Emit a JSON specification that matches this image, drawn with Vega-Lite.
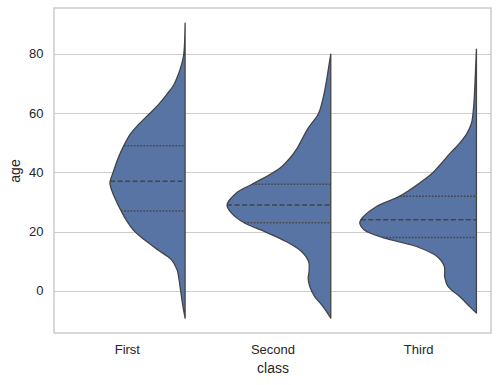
{
  "$schema": "https://vega.github.io/schema/vega-lite/v6.json",
  "width": 437,
  "height": 325,
  "autosize": "none",
  "padding": {"left": 54, "top": 8, "right": 8, "bottom": 52},
  "config": {
    "font": "Liberation Sans",
    "view": {"stroke": "#cccccc", "strokeWidth": 1.5},
    "axis": {"labelColor": "#262626", "titleColor": "#262626", "labelFontSize": 13, "titleFontSize": 14, "titleFontWeight": "normal", "ticks": false, "domain": false}
  },
  "datasets": {
    "outline": [
      {"class": "First", "age": -9.2, "w": 0},
      {"class": "First", "age": -4.2, "w": 0.018},
      {"class": "First", "age": -0.2, "w": 0.030},
      {"class": "First", "age": 3.7, "w": 0.041},
      {"class": "First", "age": 7.1, "w": 0.055},
      {"class": "First", "age": 10.5, "w": 0.093},
      {"class": "First", "age": 13.8, "w": 0.185},
      {"class": "First", "age": 17.2, "w": 0.277},
      {"class": "First", "age": 20.0, "w": 0.345},
      {"class": "First", "age": 24.0, "w": 0.405},
      {"class": "First", "age": 27.1, "w": 0.440},
      {"class": "First", "age": 30.7, "w": 0.476},
      {"class": "First", "age": 34.1, "w": 0.505},
      {"class": "First", "age": 36.5, "w": 0.516},
      {"class": "First", "age": 40.3, "w": 0.492},
      {"class": "First", "age": 44.8, "w": 0.46},
      {"class": "First", "age": 49.3, "w": 0.418},
      {"class": "First", "age": 52.7, "w": 0.380},
      {"class": "First", "age": 56.0, "w": 0.323},
      {"class": "First", "age": 59.8, "w": 0.245},
      {"class": "First", "age": 62.8, "w": 0.185},
      {"class": "First", "age": 66.2, "w": 0.128},
      {"class": "First", "age": 69.5, "w": 0.078},
      {"class": "First", "age": 72.9, "w": 0.048},
      {"class": "First", "age": 76.3, "w": 0.025},
      {"class": "First", "age": 79.9, "w": 0.009},
      {"class": "First", "age": 90.4, "w": 0},
      {"class": "Second", "age": -9.2, "w": 0},
      {"class": "Second", "age": -5.3, "w": 0.053},
      {"class": "Second", "age": -1.9, "w": 0.110},
      {"class": "Second", "age": 1.5, "w": 0.144},
      {"class": "Second", "age": 4.3, "w": 0.155},
      {"class": "Second", "age": 6.5, "w": 0.149},
      {"class": "Second", "age": 9.9, "w": 0.152},
      {"class": "Second", "age": 13.3, "w": 0.201},
      {"class": "Second", "age": 16.6, "w": 0.304},
      {"class": "Second", "age": 20.0, "w": 0.453},
      {"class": "Second", "age": 23.0, "w": 0.594},
      {"class": "Second", "age": 26.2, "w": 0.680},
      {"class": "Second", "age": 29.0, "w": 0.712},
      {"class": "Second", "age": 33.0, "w": 0.650},
      {"class": "Second", "age": 36.0, "w": 0.540},
      {"class": "Second", "age": 38.0, "w": 0.465},
      {"class": "Second", "age": 41.4, "w": 0.35},
      {"class": "Second", "age": 44.8, "w": 0.281},
      {"class": "Second", "age": 48.2, "w": 0.230},
      {"class": "Second", "age": 51.5, "w": 0.194},
      {"class": "Second", "age": 54.9, "w": 0.156},
      {"class": "Second", "age": 59.8, "w": 0.085},
      {"class": "Second", "age": 65.0, "w": 0.053},
      {"class": "Second", "age": 70.7, "w": 0.030},
      {"class": "Second", "age": 76.3, "w": 0.012},
      {"class": "Second", "age": 79.9, "w": 0},
      {"class": "Third", "age": -7.5, "w": 0},
      {"class": "Third", "age": -5.3, "w": 0.046},
      {"class": "Third", "age": -1.9, "w": 0.115},
      {"class": "Third", "age": 1.5, "w": 0.195},
      {"class": "Third", "age": 4.8, "w": 0.218},
      {"class": "Third", "age": 8.2, "w": 0.220},
      {"class": "Third", "age": 11.6, "w": 0.270},
      {"class": "Third", "age": 15.0, "w": 0.412},
      {"class": "Third", "age": 18.0, "w": 0.641},
      {"class": "Third", "age": 20.6, "w": 0.770},
      {"class": "Third", "age": 22.6, "w": 0.80},
      {"class": "Third", "age": 24.0, "w": 0.794},
      {"class": "Third", "age": 28.5, "w": 0.686},
      {"class": "Third", "age": 32.0, "w": 0.526},
      {"class": "Third", "age": 37.5, "w": 0.360},
      {"class": "Third", "age": 39.7, "w": 0.303},
      {"class": "Third", "age": 43.1, "w": 0.240},
      {"class": "Third", "age": 46.5, "w": 0.180},
      {"class": "Third", "age": 49.9, "w": 0.115},
      {"class": "Third", "age": 53.2, "w": 0.065},
      {"class": "Third", "age": 56.6, "w": 0.034},
      {"class": "Third", "age": 62.2, "w": 0.019},
      {"class": "Third", "age": 73.5, "w": 0.007},
      {"class": "Third", "age": 81.6, "w": 0}
    ],
    "quartiles": [
      {"class": "First", "stat": "Q1", "age": 27, "w": 0.440},
      {"class": "First", "stat": "median", "age": 37, "w": 0.515},
      {"class": "First", "stat": "Q3", "age": 49, "w": 0.418},
      {"class": "Second", "stat": "Q1", "age": 23, "w": 0.594},
      {"class": "Second", "stat": "median", "age": 29, "w": 0.712},
      {"class": "Second", "stat": "Q3", "age": 36, "w": 0.540},
      {"class": "Third", "stat": "Q1", "age": 18, "w": 0.641},
      {"class": "Third", "stat": "median", "age": 24, "w": 0.794},
      {"class": "Third", "stat": "Q3", "age": 32, "w": 0.526}
    ]
  },
  "layer": [
    {
      "data": {"name": "outline"},
      "transform": [
        {"calculate": "indexof(['First','Second','Third'], datum['class']) + 0.4", "as": "edge"},
        {"calculate": "datum.edge - datum.w", "as": "left"}
      ],
      "mark": {"type": "area", "orient": "horizontal", "interpolate": "catmull-rom", "fill": "#5874a5", "stroke": "#444444", "strokeWidth": 1.3, "strokeJoin": "round"},
      "encoding": {
        "y": {"field": "age", "type": "quantitative", "scale": {"domain": [-14.2, 95.5], "nice": false, "zero": false},
          "axis": {"values": [0, 20, 40, 60, 80], "grid": true, "gridColor": "#cccccc", "gridWidth": 1, "labelPadding": 11, "titlePadding": 6, "title": "age"}},
        "x": {"field": "left", "type": "quantitative", "stack": null, "scale": {"domain": [-0.5, 2.5], "nice": false, "zero": false},
          "axis": {"values": [0, 1, 2], "grid": false, "labelExpr": "datum.value == 0 ? 'First' : datum.value == 1 ? 'Second' : 'Third'", "labelPadding": 10, "titlePadding": 5, "title": "class"}},
        "x2": {"field": "edge"},
        "detail": {"field": "class"}
      }
    },
    {
      "data": {"name": "quartiles"},
      "transform": [
        {"calculate": "indexof(['First','Second','Third'], datum['class']) + 0.4", "as": "edge"},
        {"calculate": "datum.edge - datum.w", "as": "left"}
      ],
      "mark": {"type": "rule", "stroke": "#444444", "strokeWidth": 1.5},
      "encoding": {
        "y": {"field": "age", "type": "quantitative"},
        "x": {"field": "left", "type": "quantitative"},
        "x2": {"field": "edge"},
        "strokeDash": {"field": "stat", "type": "nominal", "legend": null,
          "scale": {"domain": ["median", "Q1", "Q3"], "range": [[5, 2.5], [1.6, 1.6], [1.6, 1.6]]}}
      }
    }
  ]
}
